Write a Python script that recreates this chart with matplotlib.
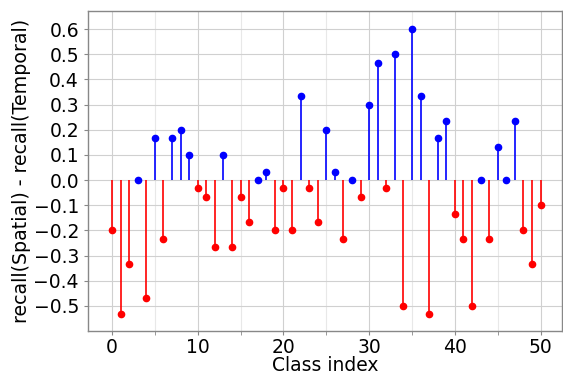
import matplotlib
matplotlib.use("Agg")
import matplotlib.pyplot as plt
import numpy as np
from matplotlib.ticker import MultipleLocator

class_index = list(range(51))
diff = [-0.2, -0.533, -0.333, 0.0, -0.467, 0.167, -0.233, 0.167, 0.2, 0.1,
        -0.033, -0.067, -0.267, 0.1, -0.267, -0.067, -0.167, 0.0, 0.033, -0.2,
        -0.033, -0.2, 0.333, -0.033, -0.167, 0.2, 0.033, -0.233, 0.0, -0.067,
        0.3, 0.467, -0.033, 0.5, -0.5, 0.6, 0.333, -0.533, 0.167, 0.233,
        -0.133, -0.233, -0.5, 0.0, -0.233, 0.133, 0.0, 0.233, -0.2, -0.333,
        -0.1]

x = np.array(class_index)
y = np.array(diff)

fig = plt.figure(figsize=(5.63, 3.76), dpi=100)
ax = fig.add_axes([88/563, 45/376, (562-88)/563, (331-11)/376])

pos = y >= 0
neg = ~pos
for mask, col in ((pos, "blue"), (neg, "red")):
    ml, sl, bl = ax.stem(x[mask], y[mask], basefmt=" ")
    plt.setp(ml, color=col, markersize=4.5)
    plt.setp(sl, color=col, linewidth=1.2)

ax.set_xlim(-2.8, 52.5)
ax.set_ylim(-0.6, 0.672)
ax.xaxis.set_major_locator(MultipleLocator(10))
ax.xaxis.set_minor_locator(MultipleLocator(5))
ax.set_yticks(np.round(np.arange(-0.5, 0.61, 0.1), 1))
ax.grid(True, which="major", color="#d0d0d0", linewidth=0.8)
ax.grid(True, which="minor", color="#e8e8e8", linewidth=0.8)
ax.set_axisbelow(True)
for s in ax.spines.values():
    s.set_color("#888888")
    s.set_linewidth(1.0)
ax.tick_params(axis="both", which="both", colors="#888888", labelcolor="black",
               labelsize=13.5, length=3)
ax.tick_params(axis="x", pad=2)
ax.set_xlabel("Class index", fontsize=13.5, labelpad=-1)
ax.set_ylabel("recall(Spatial) - recall(Temporal)", fontsize=13.7, labelpad=2)

fig.savefig("out.png", dpi=100)
